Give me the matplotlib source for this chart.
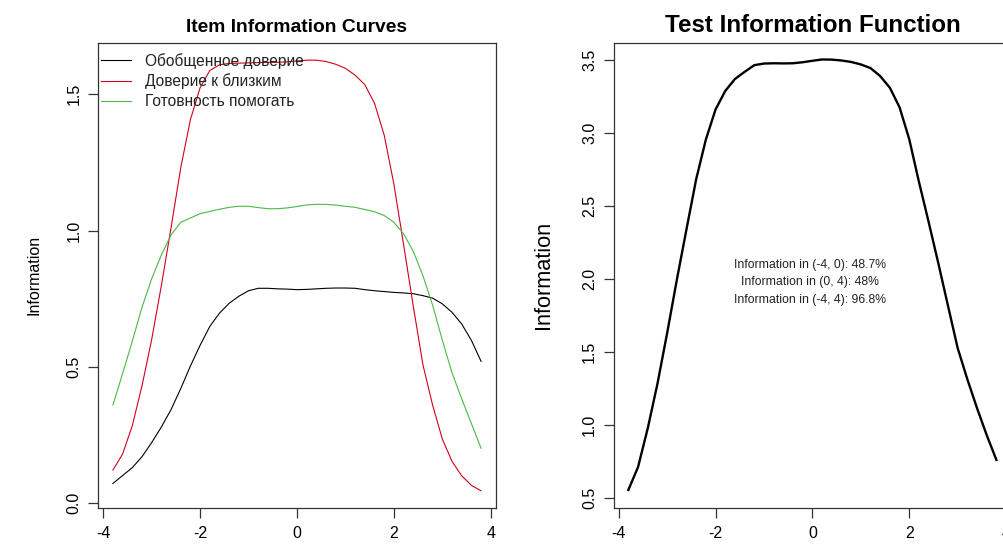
import matplotlib
matplotlib.use("Agg")
import matplotlib.pyplot as plt
import numpy as np

plt.rcParams['font.family'] = ['Liberation Sans', 'DejaVu Sans']
plt.rcParams['axes.unicode_minus'] = False

theta = [-3.8, -3.6, -3.4, -3.2, -3.0, -2.8, -2.6, -2.4, -2.2, -2.0,
         -1.8, -1.6, -1.4, -1.2, -1.0, -0.8, -0.6, -0.4, -0.2, 0.0,
         0.2, 0.4, 0.6, 0.8, 1.0, 1.2, 1.4, 1.6, 1.8, 2.0,
         2.2, 2.4, 2.6, 2.8, 3.0, 3.2, 3.4, 3.6, 3.8]

general_trust = [0.072, 0.101, 0.130, 0.170, 0.222, 0.279, 0.343, 0.420, 0.503, 0.579,
                 0.648, 0.697, 0.733, 0.759, 0.779, 0.788, 0.788, 0.786, 0.785, 0.783,
                 0.784, 0.786, 0.788, 0.789, 0.789, 0.788, 0.783, 0.779, 0.776, 0.773,
                 0.771, 0.768, 0.761, 0.752, 0.731, 0.700, 0.657, 0.597, 0.520]

close_trust = [0.121, 0.180, 0.284, 0.430, 0.600, 0.798, 1.010, 1.230, 1.407, 1.524,
               1.587, 1.608, 1.613, 1.614, 1.615, 1.616, 1.617, 1.617, 1.619, 1.622,
               1.625, 1.625, 1.620, 1.610, 1.595, 1.570, 1.535, 1.467, 1.350, 1.170,
               0.949, 0.723, 0.507, 0.359, 0.235, 0.153, 0.100, 0.065, 0.045]

readiness = [0.360, 0.475, 0.594, 0.718, 0.823, 0.910, 0.984, 1.030, 1.046, 1.062,
             1.070, 1.078, 1.085, 1.089, 1.089, 1.084, 1.080, 1.080, 1.083, 1.088,
             1.094, 1.096, 1.096, 1.093, 1.089, 1.085, 1.077, 1.069, 1.055, 1.030,
             0.988, 0.924, 0.834, 0.726, 0.598, 0.478, 0.382, 0.292, 0.201]

test_info = [0.553, 0.710, 0.975, 1.280, 1.627, 1.992, 2.340, 2.683, 2.955, 3.161,
             3.288, 3.370, 3.419, 3.465, 3.476, 3.478, 3.477, 3.478, 3.485, 3.495,
             3.504, 3.503, 3.497, 3.487, 3.470, 3.445, 3.390, 3.310, 3.176, 2.957,
             2.665, 2.390, 2.107, 1.815, 1.525, 1.311, 1.113, 0.928, 0.758]

legend_labels = ["Обобщенное доверие", "Доверие к близким", "Готовность помогать"]
series_colors = ["#000000", "#D0021B", "#4CB847"]
info_lines = ["Information in (-4, 0): 48.7%",
              "Information in (0, 4): 48%",
              "Information in (-4, 4): 96.8%"]
x_ticks = [-4, -2, 0, 2, 4]
left_yticks = [0.0, 0.5, 1.0, 1.5]
right_yticks = [0.5, 1.0, 1.5, 2.0, 2.5, 3.0, 3.5]

W, H = 1004, 546
fig = plt.figure(figsize=(W / 100, H / 100), dpi=100)

ax1 = fig.add_axes([98 / W, (H - 507.7) / H, 398 / W, (507.7 - 43) / H])
ax2 = fig.add_axes([613.7 / W, (H - 507.7) / H, 397.4 / W, (507.7 - 42.7) / H])


def style(ax, yticks, labelsize):
    for s in ax.spines.values():
        s.set_linewidth(0.9)
        s.set_color("#333333")
    ax.set_xticks(x_ticks)
    ax.set_xticklabels([str(t) for t in x_ticks])
    ax.set_yticks(yticks)
    ax.set_yticklabels([f"{t:.1f}" for t in yticks], rotation=90, va="center")
    ax.tick_params(direction="out", length=7, width=0.9, color="#333333",
                   labelsize=labelsize, pad=6)
    ax.tick_params(axis="y", pad=5)


# Left panel: item information curves
series = [general_trust, close_trust, readiness]
for vals, col, lab in zip(series, series_colors, legend_labels):
    ax1.plot(theta, vals, color=col, lw=0.8, label=lab)
ax1.set_xlim(-4.108, 4.108)
ax1.set_ylim(-0.017, 1.688)
style(ax1, left_yticks, 11.5)
ax1.set_title("Item Information Curves", fontsize=13.9, fontweight="bold", pad=8)
ax1.set_ylabel("Information", fontsize=11.5, labelpad=18)
leg = ax1.legend(loc="upper left", frameon=False, fontsize=11.2,
                 bbox_to_anchor=(3.0 / 398, 1 - 10.0 / 464.7),
                 borderaxespad=0, borderpad=0,
                 handlelength=1.95, handletextpad=0.9, labelspacing=0.3)
for t in leg.get_texts():
    t.set_color("#222222")

# Right panel: test information function
ax2.plot(theta, test_info, color="black", lw=1.7)
ax2.set_xlim(-4.103, 4.103)
ax2.set_ylim(0.431, 3.619)
style(ax2, right_yticks, 11.5)
ax2.set_title("Test Information Function", fontsize=17.4, fontweight="bold", pad=8)
ax2.set_ylabel("Information", fontsize=15.6, labelpad=20)
for i, line in enumerate(info_lines):
    ax2.annotate(line, xy=(0, 1.976), xycoords="data",
                 xytext=(-1.5, (1 - i) * 12.5), textcoords="offset points",
                 ha="center", va="center", fontsize=8.8, color="#222222")

fig.savefig("out.png", dpi=100)
